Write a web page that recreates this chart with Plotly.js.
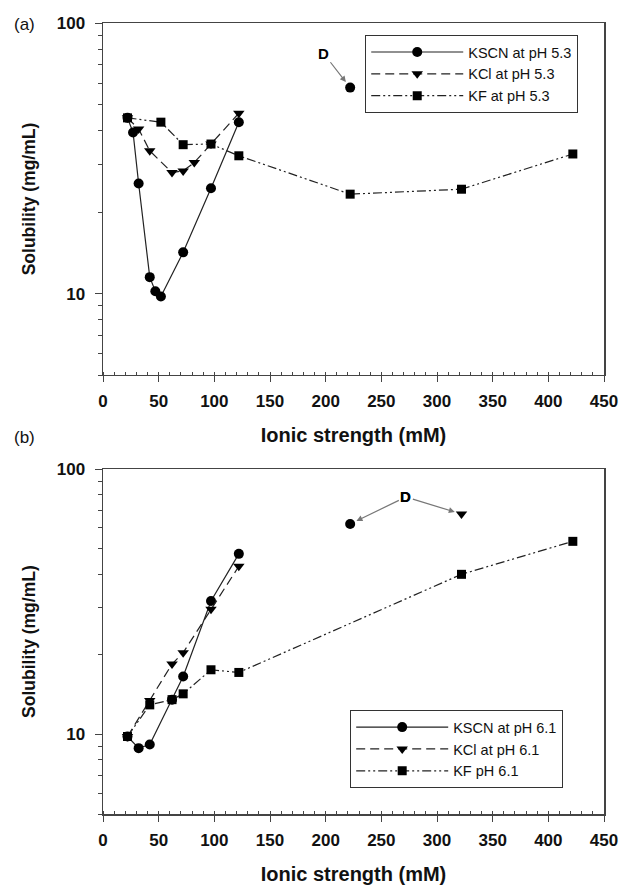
<!DOCTYPE html>
<html><head><meta charset="utf-8">
<script src="https://cdn.plot.ly/plotly-3.0.1.min.js"></script>
<style>body{margin:0;background:#fff}#g{width:623px;height:886px}</style>
</head><body><div id="g"></div>
<script>
// Panel (a) pH 5.3
const a_kscn_x = [22, 27, 32, 42, 47, 52, 72, 97, 122];
const a_kscn_y = [44.6, 39.4, 25.5, 11.5, 10.2, 9.75, 14.2, 24.5, 43.0];
const a_kscn_dx = [222];
const a_kscn_dy = [57.7];
const a_kcl_x = [22, 32, 42, 62, 72, 82, 97, 122];
const a_kcl_y = [44.6, 40.6, 33.7, 28.0, 28.4, 30.5, 35.7, 46.4];
const a_kf_x = [22, 52, 72, 97, 122, 222, 322, 422];
const a_kf_y = [44.6, 43.0, 35.5, 35.7, 32.3, 23.3, 24.3, 32.8];
// Panel (b) pH 6.1
const b_kscn_x = [22, 32, 42, 62, 72, 97, 122];
const b_kscn_y = [9.8, 8.86, 9.14, 13.5, 16.5, 31.8, 47.9];
const b_kscn_dx = [222];
const b_kscn_dy = [62.1];
const b_kcl_x = [22, 42, 62, 72, 97, 122];
const b_kcl_y = [9.8, 13.4, 18.4, 20.3, 29.6, 43.0];
const b_kcl_dx = [322];
const b_kcl_dy = [67.7];
const b_kf_x = [22, 42, 62, 72, 97, 122, 322, 422];
const b_kf_y = [9.8, 12.9, 13.5, 14.2, 17.5, 17.1, 40.1, 53.4];

const legA = ["KSCN at pH 5.3", "KCl at pH 5.3", "KF at pH 5.3"];
const legB = ["KSCN at pH 6.1", "KCl at pH 6.1", "KF pH 6.1"];
const xTitle = "Ionic strength (mM)";
const yTitle = "Solubility (mg/mL)";

const LC = '#222';
const DASH_KCL = '9px,5px';
const DASH_KF = '9px,3px,2px,3px,2px,3px';
function tr(x, y, name, sym, dash, xa, ya, leg, show, mode) {
  return {x: x, y: y, name: name, type: 'scatter', mode: mode || 'lines+markers',
    xaxis: xa, yaxis: ya, legend: leg, showlegend: show,
    line: {color: LC, width: 1.2, dash: dash},
    marker: {symbol: sym, size: sym === 'square' ? 9 : 10, color: '#000'}};
}
const data = [
  tr(a_kscn_x, a_kscn_y, legA[0], 'circle', 'solid', 'x', 'y', 'legend', true),
  tr(a_kcl_x, a_kcl_y, legA[1], 'triangle-down', DASH_KCL, 'x', 'y', 'legend', true),
  tr(a_kf_x, a_kf_y, legA[2], 'square', DASH_KF, 'x', 'y', 'legend', true),
  tr(a_kscn_dx, a_kscn_dy, 'D', 'circle', 'solid', 'x', 'y', 'legend', false, 'markers'),
  tr(b_kscn_x, b_kscn_y, legB[0], 'circle', 'solid', 'x2', 'y2', 'legend2', true),
  tr(b_kcl_x, b_kcl_y, legB[1], 'triangle-down', DASH_KCL, 'x2', 'y2', 'legend2', true),
  tr(b_kf_x, b_kf_y, legB[2], 'square', DASH_KF, 'x2', 'y2', 'legend2', true),
  tr(b_kscn_dx, b_kscn_dy, 'D', 'circle', 'solid', 'x2', 'y2', 'legend2', false, 'markers'),
  tr(b_kcl_dx, b_kcl_dy, 'D', 'triangle-down', 'solid', 'x2', 'y2', 'legend2', false, 'markers')
];

const FAM = 'Liberation Sans, Arial, sans-serif';
const tickFont = {family: FAM, size: 17, color: '#111', weight: 'bold'};
const xTitleFont = {family: FAM, size: 20, color: '#111', weight: 'bold'};
const yTitleFont = {family: FAM, size: 17.5, color: '#111', weight: 'bold'};
function xax(anchor) {
  return {anchor: anchor, domain: [0, 1], range: [0, 450], dtick: 50, tick0: 0,
    showline: true, mirror: true, linecolor: '#444', linewidth: 1.5, showgrid: false, zeroline: false,
    ticks: 'outside', ticklen: 6, tickcolor: '#444', tickfont: tickFont, ticklabelstandoff: 4,
    minor: {dtick: 10, ticks: 'inside', ticklen: 3, tickcolor: '#444', showgrid: false},
    title: {text: xTitle, font: xTitleFont, standoff: 18}};
}
function yax(anchor, dom) {
  return {anchor: anchor, domain: dom, type: 'log', range: [Math.log10(5), 2],
    tickvals: [10, 100], ticktext: ['10', '100'],
    showline: true, mirror: true, linecolor: '#444', linewidth: 1.5, showgrid: false, zeroline: false,
    ticks: 'outside', ticklen: 7, tickcolor: '#444', tickfont: tickFont, ticklabelstandoff: 6,
    minor: {tickvals: [5,6,7,8,9,20,30,40,50,60,70,80,90], ticks: 'outside', ticklen: 4, tickcolor: '#444', showgrid: false},
    title: {text: yTitle, font: yTitleFont, standoff: 16}};
}
const legFont = {family: FAM, size: 14.5, color: '#111'};
const L = Math.log10;
const annFont = {family: FAM, size: 15, color: '#000', weight: 'bold'};
const layout = {
  width: 623, height: 886, paper_bgcolor: '#fff', plot_bgcolor: '#fff',
  margin: {l: 103, r: 19, t: 23, b: 72},
  xaxis: xax('y'), yaxis: yax('x', [0.555, 1]),
  xaxis2: xax('y2'), yaxis2: yax('x2', [0, 0.436]),
  legend: {x: 0.523, y: 0.985, xanchor: 'left', yanchor: 'top', bordercolor: '#333', borderwidth: 1.2,
    bgcolor: '#fff', font: legFont, tracegroupgap: 0, itemwidth: 92},
  legend2: {x: 0.493, y: 0.1315, xanchor: 'left', yanchor: 'top', bordercolor: '#333', borderwidth: 1.2,
    bgcolor: '#fff', font: legFont, tracegroupgap: 0, itemwidth: 92},
  annotations: [
    {xref: 'x', yref: 'y', x: a_kscn_dx[0], y: L(a_kscn_dy[0]), axref: 'x', ayref: 'y', ax: 198, ay: L(77.3),
      text: 'D', font: annFont, showarrow: true, arrowhead: 2, arrowsize: 1, arrowwidth: 1.2, arrowcolor: '#777', standoff: 7},
    {xref: 'x2', yref: 'y2', x: b_kscn_dx[0], y: L(b_kscn_dy[0]), axref: 'x2', ayref: 'y2', ax: 272, ay: L(78.5),
      text: 'D', font: annFont, showarrow: true, arrowhead: 2, arrowsize: 1, arrowwidth: 1.2, arrowcolor: '#777', standoff: 7},
    {xref: 'x2', yref: 'y2', x: b_kcl_dx[0], y: L(b_kcl_dy[0]), axref: 'x2', ayref: 'y2', ax: 272, ay: L(78.5),
      text: 'D', font: annFont, showarrow: true, arrowhead: 2, arrowsize: 1, arrowwidth: 1.2, arrowcolor: '#777', standoff: 7},
    {xref: 'paper', yref: 'paper', x: -0.1557, y: 0.9975, xanchor: 'center', yanchor: 'middle', text: '(a)', showarrow: false,
      font: {family: FAM, size: 17, color: '#111'}},
    {xref: 'paper', yref: 'paper', x: -0.1557, y: 0.4766, xanchor: 'center', yanchor: 'middle', text: '(b)', showarrow: false,
      font: {family: FAM, size: 17, color: '#111'}}
  ]
};
Plotly.newPlot('g', data, layout, {displayModeBar: false, staticPlot: true});
</script></body></html>
